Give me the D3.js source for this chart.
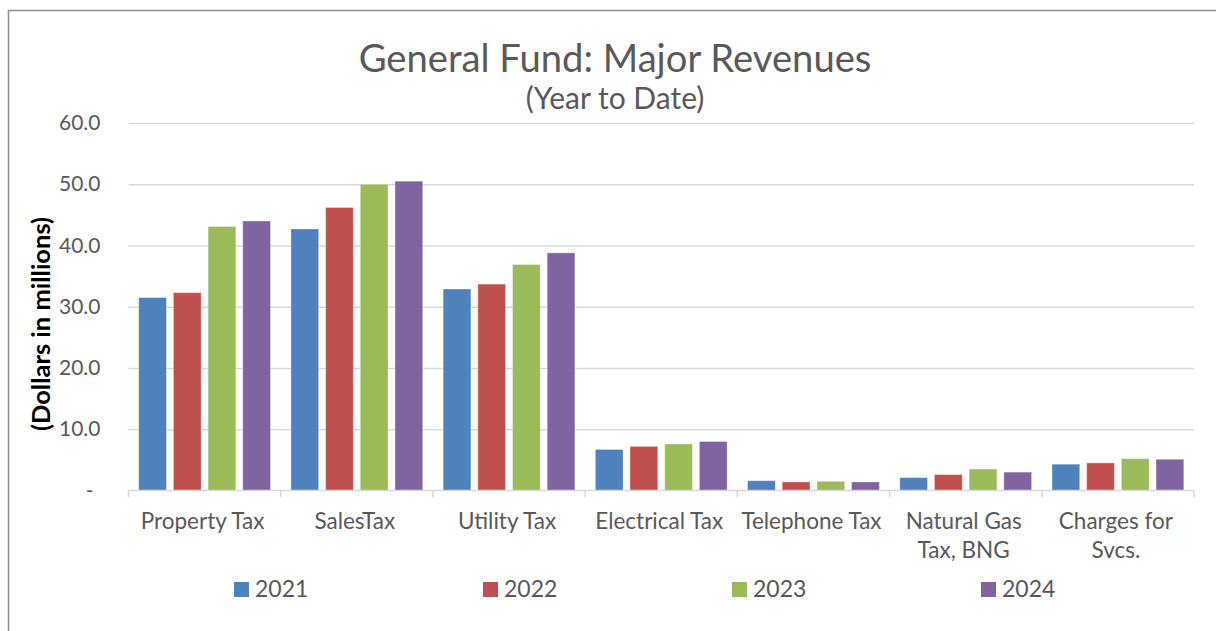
<!DOCTYPE html>
<html>
<head>
<meta charset="utf-8">
<script src="https://cdn.jsdelivr.net/npm/d3@7"></script>
<style>
  html, body { margin: 0; padding: 0; background: #fff; }
  svg { display: block; font-family: Lato, "Open Sans", sans-serif; }
</style>
</head>
<body>
<svg id="chart" width="1216" height="631"></svg>
<script>
// Revenue categories (multi-line labels split on "\n")
const categories = [
  "Property Tax",
  "SalesTax",
  "Utility Tax",
  "Electrical Tax",
  "Telephone Tax",
  "Natural Gas\nTax, BNG",
  "Charges for\nSvcs."
];

// Fiscal years shown as series
const years = ["2021", "2022", "2023", "2024"];

// Year-to-date revenue, dollars in millions, one array per year
const values2021 = [31.5, 42.7, 32.9, 6.7, 1.6, 2.1, 4.3];
const values2022 = [32.3, 46.2, 33.7, 7.2, 1.4, 2.6, 4.5];
const values2023 = [43.1, 50.0, 36.9, 7.6, 1.5, 3.5, 5.2];
const values2024 = [44.0, 50.5, 38.8, 8.0, 1.4, 3.0, 5.1];

// Value axis ticks
const yTicks = [0, 10, 20, 30, 40, 50, 60];

const seriesColors = ["#4F81BD", "#C0504D", "#9BBB59", "#8064A2"];

const seriesValues = [values2021, values2022, values2023, values2024];
const rows = categories.map((c, i) => ({
  category: c,
  bars: years.map((y, j) => ({ year: y, value: seriesValues[j][i] }))
}));

const svg = d3.select("#chart");
const plot = { left: 128.5, right: 1194, top: 123, bottom: 490.5 };

// Chart area frame
svg.append("rect")
  .attr("x", 8.5).attr("y", 10.5)
  .attr("width", 1230).attr("height", 640)
  .attr("fill", "#fff")
  .attr("stroke", "#8E8E8E")
  .attr("stroke-width", 1.5);

const x0 = d3.scaleBand()
  .domain(categories)
  .range([plot.left, plot.right])
  .paddingInner(0).paddingOuter(0);

const inset = 10.2;
const x1 = d3.scaleBand()
  .domain(years)
  .range([inset, x0.bandwidth() - inset])
  .paddingInner(0.2).paddingOuter(0);

const y = d3.scaleLinear()
  .domain([0, 60])
  .range([plot.bottom, plot.top]);

const color = d3.scaleOrdinal().domain(years).range(seriesColors);

// Horizontal gridlines
const grid = svg.append("g")
  .attr("transform", `translate(${plot.left},0)`)
  .call(d3.axisLeft(y).tickValues(yTicks.filter(d => d > 0))
    .tickSize(-(plot.right - plot.left)).tickFormat(""));
grid.select(".domain").remove();
grid.selectAll(".tick line")
  .attr("stroke", "#D9D9D9")
  .attr("stroke-width", 1.6);

// Value axis labels
const yAxis = svg.append("g")
  .attr("transform", `translate(${plot.left},0)`)
  .call(d3.axisLeft(y).tickValues(yTicks).tickSize(0).tickPadding(28)
    .tickFormat(d => d === 0 ? "-" : d3.format(".1f")(d)));
yAxis.select(".domain").remove();
yAxis.selectAll(".tick text")
  .attr("fill", "#595959")
  .style("font-size", "21px")
  .style("font-family", "Lato, sans-serif");
yAxis.selectAll(".tick").filter(d => d === 0).select("text").attr("dx", -7);

// Bars
const groups = svg.append("g").selectAll("g")
  .data(rows)
  .join("g")
  .attr("transform", d => `translate(${x0(d.category)},0)`);

groups.selectAll("rect")
  .data(d => d.bars)
  .join("rect")
  .attr("x", d => x1(d.year))
  .attr("y", d => y(d.value))
  .attr("width", x1.bandwidth())
  .attr("height", d => y(0) - y(d.value))
  .attr("fill", d => color(d.year))
  .attr("stroke", "#fff")
  .attr("stroke-opacity", 0.35)
  .attr("stroke-width", 1);

// Category axis line and boundary tick marks
svg.append("line")
  .attr("x1", plot.left).attr("x2", plot.right)
  .attr("y1", plot.bottom).attr("y2", plot.bottom)
  .attr("stroke", "#D9D9D9").attr("stroke-width", 1.6);

const boundaries = categories.map(c => x0(c)).concat([plot.right]);
svg.append("g").selectAll("line")
  .data(boundaries)
  .join("line")
  .attr("x1", d => d).attr("x2", d => d)
  .attr("y1", plot.bottom).attr("y2", plot.bottom + 7)
  .attr("stroke", "#D9D9D9").attr("stroke-width", 1.6);

// Category labels
const catLabels = svg.append("g").selectAll("text")
  .data(categories)
  .join("text")
  .attr("x", d => x0(d) + x0.bandwidth() / 2 - 2)
  .attr("y", 529)
  .attr("text-anchor", "middle")
  .attr("fill", "#595959")
  .style("font-size", "22.5px");
catLabels.selectAll("tspan")
  .data(d => d.split("\n"))
  .join("tspan")
  .attr("x", function () { return this.parentNode.getAttribute("x"); })
  .attr("dy", (d, i) => i === 0 ? 0 : 29)
  .text(d => d);

// Title and subtitle
svg.append("text")
  .attr("x", 615).attr("y", 72)
  .attr("text-anchor", "middle")
  .attr("fill", "#595959")
  .style("font-size", "38.2px")
  .text("General Fund: Major Revenues");

svg.append("text")
  .attr("x", 615).attr("y", 109)
  .attr("text-anchor", "middle")
  .attr("fill", "#595959")
  .style("font-size", "30px")
  .text("(Year to Date)");

// Value axis title
svg.append("text")
  .attr("transform", "translate(50,324) rotate(-90)")
  .attr("text-anchor", "middle")
  .attr("fill", "#000")
  .style("font-size", "25.5px")
  .style("font-weight", "bold")
  .text("(Dollars in millions)");

// Legend
const legend = svg.append("g").selectAll("g")
  .data(years)
  .join("g")
  .attr("transform", (d, i) => `translate(${234 + i * 249},582)`);
legend.append("rect")
  .attr("width", 15).attr("height", 15)
  .attr("fill", d => color(d));
legend.append("text")
  .attr("x", 21).attr("y", 15)
  .attr("fill", "#595959")
  .style("font-size", "23px")
  .text(d => d);
</script>
</body>
</html>
